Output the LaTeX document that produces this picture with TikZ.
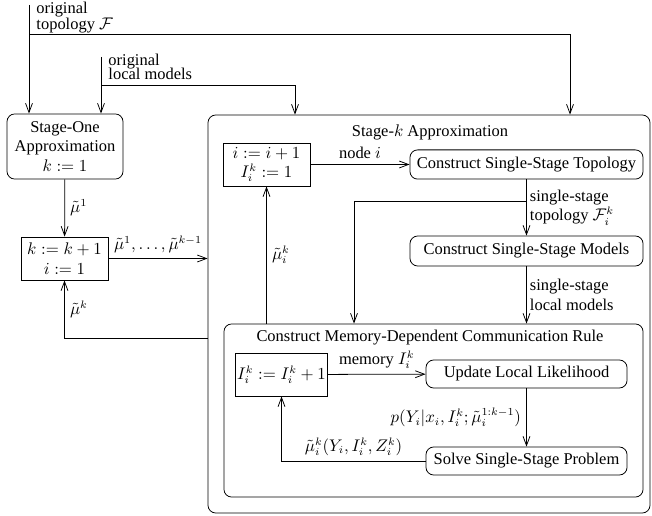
\documentclass[tikz,border=0pt]{standalone}
\usepackage{amsmath, amssymb}
\usepackage{fontspec}
\setmainfont{Liberation Serif}
\usetikzlibrary{arrows.meta, calc}

\tikzset{
	rbox/.style = {draw, rounded corners = 5pt, align = center, inner sep = 2pt},
	sbox/.style = {draw, align = center, inner sep = 1pt, minimum width = 56.6pt, minimum height = 28pt},
	lbl/.style = {align = left, inner sep = 2pt},
}

\begin{document}
\begin{tikzpicture}[x = 0.65pt, y = -0.65pt, line width = 0.5pt, font = \fontsize{10.7pt}{12.6pt}\selectfont, >={Straight Barb[length = 6pt, width = 4.5pt]}]
	\useasboundingbox (0,0) rectangle (652,516);

	% left column
	\node (stageone) [rbox, minimum width = 75.4pt, minimum height = 42.3pt] at (65,146.5) {Stage-One\\Approximation\\$k := 1$};
	\node (kbox) [sbox] at (64.5,258.5) {$k := k+1$\\$i := 1$};

	% stage k
	\node (stagek) [rbox, minimum width = 287.3pt, minimum height = 258.7pt] at (429,314) {};
	\node (stagektitle) at (430,132) {Stage-$k$ Approximation};
	\node (ibox) [sbox] at (266.5,164.5) {$i := i+1$\\$I_i^k := 1$};
	\node (topo) [rbox, minimum width = 151.5pt, minimum height = 19pt] at (526.5,164.5) {Construct Single-Stage Topology};
	\node (models) [rbox, minimum width = 151.5pt, minimum height = 19.5pt] at (526.5,251) {Construct Single-Stage Models};

	% memory rule
	\node (memory) [rbox, minimum width = 272.4pt, minimum height = 112.5pt] at (433.5,410.5) {};
	\node (memorytitle) at (430,338) {Construct Memory-Dependent Communication Rule};
	\node (Ibox) [sbox] at (281.5,374.5) {$I_i^k := I_i^k + 1$};
	\node (update) [rbox, minimum width = 130.7pt, minimum height = 18.2pt] at (526.5,374) {Update Local Likelihood};
	\node (solve) [rbox, minimum width = 130.7pt, minimum height = 18.2pt] at (526.5,461) {Solve Single-Stage Problem};

	% inputs
	\coordinate (origF) at (29,5);
	\coordinate (splitF) at (29,34);
	\coordinate (turnF) at (570,34);
	\coordinate (origL) at (101,57);
	\coordinate (splitL) at (101,85);
	\coordinate (turnL) at (295,85);
	\coordinate (back) at (65,338);
	\coordinate (splitT) at (526.5,201);
	\coordinate (turnT) at (354,201);

	\node (lorigF) [lbl, anchor = north west] at (33,-1) {original\\[-2.5pt]topology $\mathcal{F}$};
	\node (lorigL) [lbl, anchor = north west] at (105,51) {original\\[-3.5pt]local models};

	\begin{scope}[->]
		\draw (origF) -- (origF |- stageone.north);
		\draw (splitF) -- (turnF) -- (turnF |- stagek.north);
		\draw (origL) -- (origL |- stageone.north);
		\draw (splitL) -- (turnL) -- (turnL |- stagek.north);

		\draw (stageone) -- node (lmu1) [right] {$\tilde{\mu}^1$} (kbox);
		\draw (kbox.east) -- node (lmuall) [above] {$\tilde{\mu}^1, \ldots, \tilde{\mu}^{k-1}$} (kbox.east -| stagek.west);
		\draw (stagek.west |- back) -| node (lmuk) [pos = 0.75, right] {$\tilde{\mu}^k$} (kbox.south);

		\draw (ibox) -- node (lnode) [above] {node $i$} (topo);
		\draw (topo) -- node (ltopo) [right, lbl] {single-stage\\topology $\mathcal{F}_i^k$} (models);
		\draw (splitT) -- (turnT) -- (turnT |- memory.north);
		\draw (models) -- node (lmodels) [right, lbl] {single-stage\\local models} (models.south |- memory.north);
		\draw (ibox.south |- memory.north) -- node (lmuik) [right] {$\tilde{\mu}_i^k$} (ibox);

		\draw (Ibox) -- node (lmem) [above] {memory $I_i^k$} (update);
		\draw (update) -- node (llik) [left] {$p(Y_i|x_i, I_i^k; \tilde{\mu}_i^{1:k-1})$} (solve);
		\draw (solve.west) -| node (lrule) [pos = 0.25, above] {$\tilde{\mu}_i^k(Y_i, I_i^k, Z_i^k)$} (Ibox.south);
	\end{scope}
\end{tikzpicture}
\end{document}
